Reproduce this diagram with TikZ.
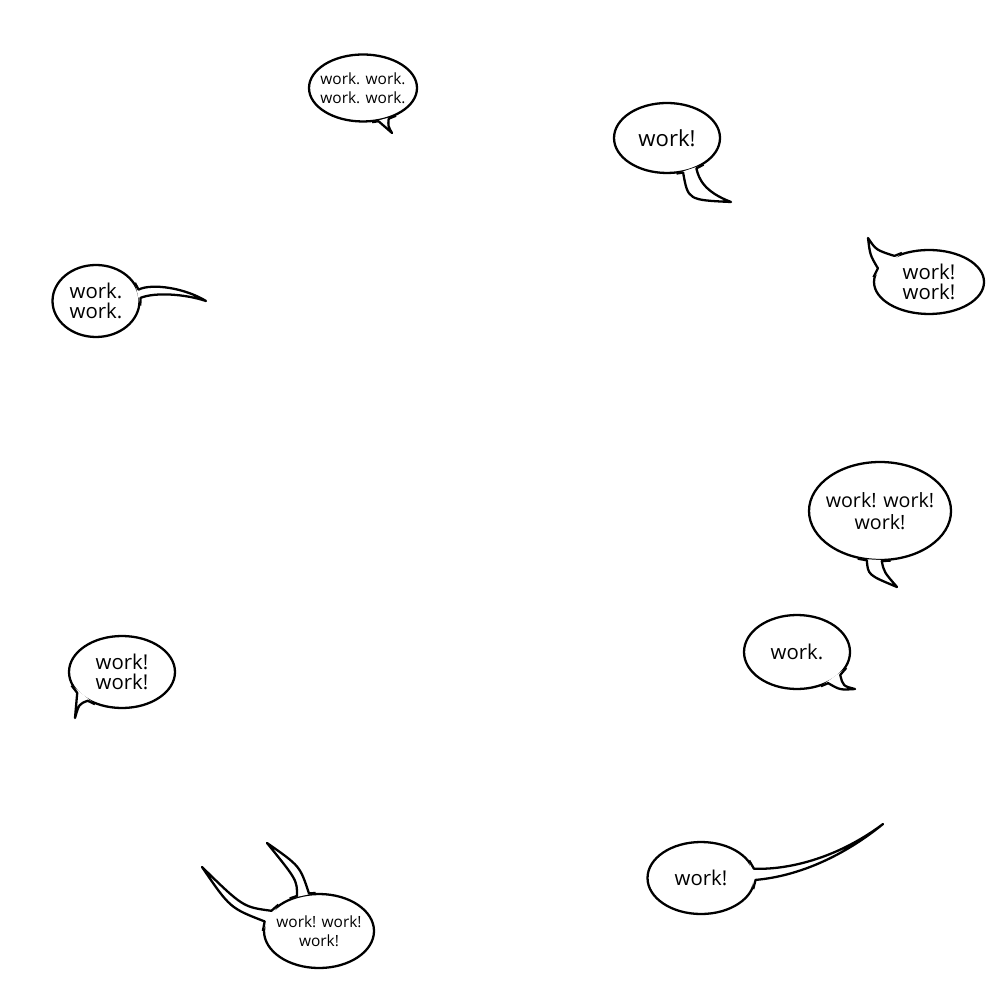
\documentclass[tikz,border=0pt]{standalone}
\usepackage{fontspec}
\setmainfont{Open Sans}
\usetikzlibrary{shapes.geometric}

\begin{document}
\begin{tikzpicture}[line width=0.65pt,line join=round,
	bubble/.style={ellipse,draw,align=center,inner sep=-1mm,font=\fontsize{5.8}{5.7}\selectfont},
	smalltext/.style={font=\fontsize{4.4}{5.3}\selectfont},
	bigtext/.style={font=\fontsize{6.3}{6.3}\selectfont},
	tail/.style={draw,fill=white}]
	\useasboundingbox (0,0) rectangle (10,-10);
	\begin{scope}[every node/.style={bubble}]
		\node[smalltext,minimum width=10.8mm,minimum height=6.7mm] (b1) at (3.63,-0.88) {work. work.\\work. work.};
		\node[bigtext,minimum width=10.6mm,minimum height=7mm] (b2) at (6.67,-1.38) {work!};
		\node[minimum width=11mm,minimum height=6.4mm] (b3) at (9.29,-2.82) {work!\\work!};
		\node[minimum width=8.7mm,minimum height=7.2mm] (b4) at (0.96,-3.01) {work.\\work.};
		\node[minimum width=14.2mm,minimum height=9.8mm,font=\fontsize{5.6}{6.3}\selectfont] (b5) at (8.80,-5.11) {work! work!\\work!};
		\node[minimum width=10.6mm,minimum height=7.4mm] (b6) at (7.97,-6.52) {work.};
		\node[minimum width=10.6mm,minimum height=7.2mm] (b7) at (1.22,-6.72) {work!\\work!};
		\node[minimum width=10.7mm,minimum height=7.2mm] (b8) at (7.01,-8.78) {work!};
		\node[smalltext,minimum width=11mm,minimum height=7.4mm] (b9) at (3.19,-9.31) {work! work!\\work!};
	\end{scope}

	% tips of the tails
	\coordinate (t1) at (3.92,-1.33);
	\coordinate (t2) at (7.31,-2.02);
	\coordinate (t3) at (8.68,-2.38);
	\coordinate (t4) at (2.06,-3.01);
	\coordinate (t5) at (8.97,-5.87);
	\coordinate (t6) at (8.55,-6.89);
	\coordinate (t7) at (0.75,-7.18);
	\coordinate (t8) at (8.83,-8.24);
	\coordinate (t9a) at (2.02,-8.67);
	\coordinate (t9b) at (2.67,-8.43);

	% each tail runs a little along the border, so its fill hides the bubble line
	\draw[tail] (b1.-75) -- (b1.-65) .. controls (3.84,-1.26) .. (t1) .. controls (3.88,-1.26) .. (b1.-50) -- (b1.-40);
	\draw[tail] (b2.-75) -- (b2.-65) .. controls (6.88,-2.00) .. (t2) .. controls (7.05,-1.92) and (6.99,-1.80) .. (b2.-46) -- (b2.-36);
	\draw[tail] (b3.175) -- (b3.165) .. controls (8.70,-2.55) .. (t3) .. controls (8.76,-2.50) .. (b3.143) -- (b3.133);
	\draw[tail] (b4.25) -- (b4.15) .. controls (1.52,-2.83) and (1.85,-2.88) .. (t4) .. controls (1.85,-2.94) and (1.55,-2.92) .. (b4.4) -- (b4.-6);
	\draw[tail] (b5.-115) -- (b5.-105) .. controls (8.68,-5.75) .. (t5) .. controls (8.84,-5.72) .. (b5.-88) -- (b5.-78);
	\draw[tail] (b6.-55) -- (b6.-45) .. controls (8.40,-6.90) .. (t6) .. controls (8.43,-6.86) .. (b6.-28) -- (b6.-18);
	\draw[tail] (b7.-165) -- (b7.-155) .. controls (0.77,-7.05) .. (t7) .. controls (0.79,-7.04) .. (b7.-140) -- (b7.-130);
	\draw[tail] (b8.20) -- (b8.10) .. controls (7.85,-8.70) and (8.35,-8.60) .. (t8) .. controls (8.45,-8.55) and (8.00,-8.76) .. (b8.-2) -- (b8.-12);
	\draw[tail] (b9.147) -- (b9.157) .. controls (2.43,-9.07) .. (t9a) .. controls (2.30,-9.08) .. (b9.170) -- (b9.180);
	\draw[tail] (b9.132) -- (b9.122) .. controls (2.97,-8.80) .. (t9b) .. controls (3.00,-8.66) .. (b9.105) -- (b9.95);
\end{tikzpicture}
\end{document}
